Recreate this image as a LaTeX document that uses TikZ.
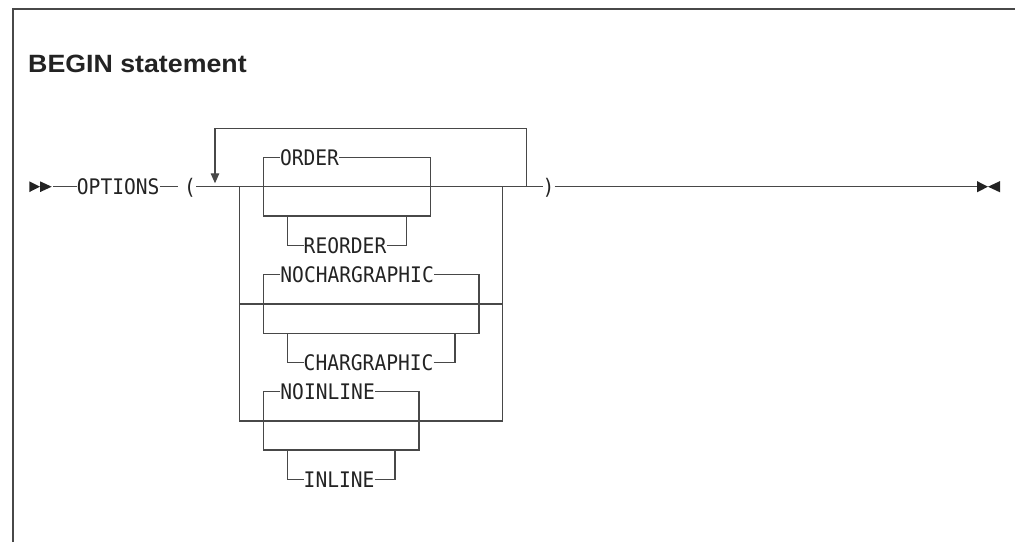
\documentclass[tikz,border=0pt]{standalone}
\usepackage{fontspec}
\usetikzlibrary{arrows.meta}
\newfontfamily\railfont[FakeStretch=0.916]{DejaVu Sans Mono}
\newfontfamily\headfont[FakeStretch=1.07]{Liberation Sans}
\definecolor{railgray}{RGB}{72,72,72}
\definecolor{inkdark}{RGB}{35,35,35}

\begin{document}
\begin{tikzpicture}[x=1pt,y=-1pt,line join=miter,
    rail/.style={draw=railgray,line width=1.3pt},
    kw/.style={text=inkdark,font=\railfont\fontsize{21.4}{24}\selectfont,
      inner sep=0pt,text height=15.6pt,text depth=0pt,anchor=west}]
    \useasboundingbox (0,0) rectangle (1015,542);

    % Rahmen und Titel
    \draw[rail] (13,542) -- (13,9) -- (1015,9);
    \node[text=inkdark,font=\headfont\bfseries\fontsize{25}{30}\selectfont,
      inner sep=0pt,anchor=base west] (title) at (28,72) {BEGIN statement};

    % Hauptlinie
    \fill[inkdark] (29.3,181.3) -- (40,186.7) -- (29.3,192.1) -- cycle;
    \fill[inkdark] (40,181.3) -- (51.7,186.7) -- (40,192.1) -- cycle;
    \node[kw] (opts) at (76.7,186.7) {OPTIONS};
    \node[kw] (lpar) at (184,186.7) {(};
    \node[kw] (rpar) at (542.5,186.7) {)};
    \coordinate (stop) at (977,186.7);
    \draw[rail] (53,186.7) -- (opts.west);
    \draw[rail] (opts.east) -- ++(18.5,0);
    \draw[rail] (lpar.east) -- (rpar.west);
    \draw[rail] (rpar.east) -- (stop);
    \fill[inkdark] (stop) ++(0,-5.6) -- ++(11,5.6) -- ++(-11,5.6) -- cycle;
    \fill[inkdark] (1000,181.1) -- (988,186.7) -- (1000,192.3) -- cycle;

    % Wiederholung
    \draw[rail,-{Triangle[length=10pt,width=8.5pt]}]
        (526.7,186.7) -- (526.7,128.3) -- (215,128.3) -- (215,183.3);

    % Auswahl: aeussere Schienen
    \draw[rail] (239.3,186.7) -- (239.3,421) -- (502.7,421) -- (502.7,186.7);
    \draw[rail] (239.3,304) -- (502.7,304);

    % ORDER / REORDER
    \node[kw] (order) at (279.8,157.3) {ORDER};
    \draw[rail] (order.west) -| (263.3,216) -| (430.7,157.3) -- (order.east);
    \node[kw] (reorder) at (303.5,245.7) {REORDER};
    \draw[rail] (reorder.west) -| (287.3,216);
    \draw[rail] (reorder.east) -| (406.7,216);

    % NOCHARGRAPHIC / CHARGRAPHIC
    \node[kw] (nochar) at (280.2,274.3) {NOCHARGRAPHIC};
    \draw[rail] (nochar.west) -| (263.3,333.3) -| (479,274.3) -- (nochar.east);
    \node[kw] (chargr) at (303.5,362.3) {CHARGRAPHIC};
    \draw[rail] (chargr.west) -| (287.3,333.3);
    \draw[rail] (chargr.east) -| (455,333.3);

    % NOINLINE / INLINE
    \node[kw] (noinl) at (280.2,391.7) {NOINLINE};
    \draw[rail] (noinl.west) -| (263.3,450) -| (419,391.7) -- (noinl.east);
    \node[kw] (inl) at (303.5,479.3) {INLINE};
    \draw[rail] (inl.west) -| (287.3,450);
    \draw[rail] (inl.east) -| (395,450);

\end{tikzpicture}
\end{document}
